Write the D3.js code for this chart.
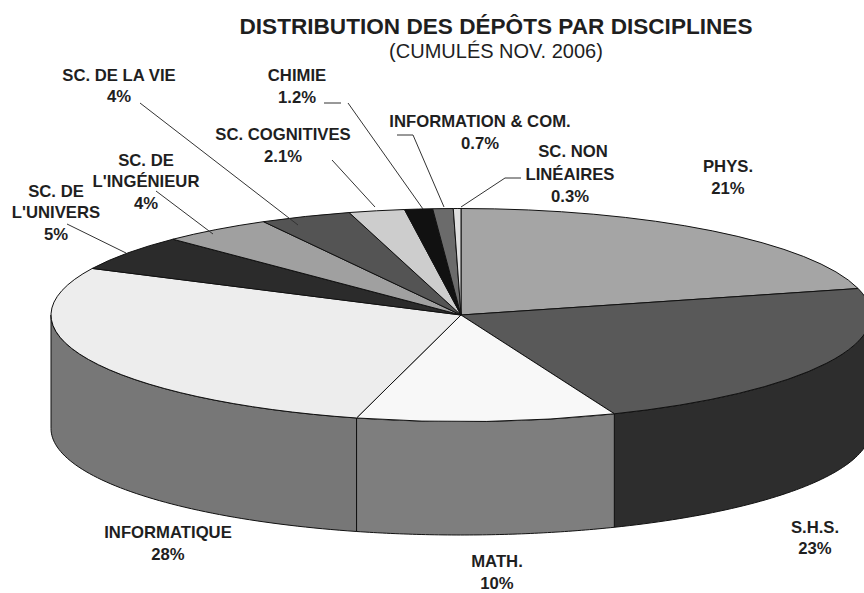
<!DOCTYPE html>
<html>
<head>
<meta charset="utf-8">
<script src="https://cdn.jsdelivr.net/npm/d3@7"></script>
<style>
  html, body { margin: 0; padding: 0; background: #fff; }
  svg { display: block; }
  text { font-family: "Liberation Sans", Arial, sans-serif; fill: #1f1f1f; text-anchor: middle; }
</style>
</head>
<body>
<svg id="canvas" width="864" height="593"></svg>
<script>
let disciplines = ['PHYS.', 'S.H.S.', 'MATH.', 'INFORMATIQUE', "SC. DE L'UNIVERS", "SC. DE L'INGÉNIEUR",
  'SC. DE LA VIE', 'SC. COGNITIVES', 'CHIMIE', 'INFORMATION & COM.', 'SC. NON LINÉAIRES']
let shares = [21, 22.9, 10.2, 28.1, 5.4, 4.4, 3.6, 2.2, 1.1, 0.8, 0.3]
let shareLabels = ['21%', '23%', '10%', '28%', '5%', '4%', '4%', '2.1%', '1.2%', '0.7%', '0.3%']

let topColors = ['#a5a5a5', '#595959', '#f8f8f8', '#ededed', '#2b2b2b', '#a0a0a0', '#545454', '#cdcdcd', '#111111', '#6b6b6b', '#dedede']
let sideColors = ['#777777', '#2d2d2d', '#7e7e7e', '#777777', '#222222', '#777777', '#333333', '#888888', '#000000', '#444444', '#999999']

// label placement: [center x, baseline y, text]
let labelLines = [
  [728, 172, 'PHYS.'], [728, 194, '21%'],
  [815, 533, 'S.H.S.'], [815, 554, '23%'],
  [497, 567, 'MATH.'], [497, 589, '10%'],
  [168, 538, 'INFORMATIQUE'], [168, 560, '28%'],
  [56, 197, 'SC. DE'], [56, 218, "L'UNIVERS"], [56, 240, '5%'],
  [146, 166, 'SC. DE'], [146, 187, "L'INGÉNIEUR"], [146, 209, '4%'],
  [119, 81, 'SC. DE LA VIE'], [119, 102, '4%'],
  [283, 140, 'SC. COGNITIVES'], [283, 162, '2.1%'],
  [297, 81, 'CHIMIE'], [297, 103, '1.2%'],
  [480, 127, 'INFORMATION & COM.'], [480, 149, '0.7%'],
  [573, 157, 'SC. NON'], [570, 180, 'LINÉAIRES'], [570, 202, '0.3%']
]

let leaders = [
  [[67, 224], [126, 253]],
  [[156, 191], [213, 234]],
  [[140, 103], [298, 225]],
  [[332, 160], [375, 207]],
  [[324, 103], [341, 103]],
  [[348, 103], [423, 209]],
  [[397, 135], [413, 135], [444, 207]],
  [[521, 178], [505, 178], [461, 207]]
]

let svg = d3.select('#canvas')

let cx = 461, cy = 315, rx = 410, ry = 106.5, depth = 113.5

let pieData = d3.pie().sort(null).value((d) => d)(shares)

let rim = (t, dy) => [cx + rx * Math.sin(t), cy - ry * Math.cos(t) + dy]

// front wall of the disc, only the part between 3 o'clock and 9 o'clock shows
let sidePath = (slice) => {
  let a = Math.max(slice.startAngle, Math.PI / 2)
  let b = Math.min(slice.endAngle, Math.PI * 1.5)
  if (a >= b) return null
  let ts = d3.range(0, 61).map((i) => a + (b - a) * i / 60)
  let pts = ts.map((t) => rim(t, 0)).concat(ts.slice().reverse().map((t) => rim(t, depth)))
  return d3.line()(pts) + 'Z'
}

svg.append('g').selectAll('path')
  .data(pieData.filter((d) => sidePath(d)))
  .enter()
  .append('path')
  .attr('d', sidePath)
  .attr('fill', (d) => sideColors[d.index])
  .attr('stroke', '#111')
  .attr('stroke-width', 1)

let arc = d3.arc().innerRadius(0).outerRadius(rx)

svg.append('g')
  .attr('transform', 'translate(' + cx + ',' + cy + ') scale(1,' + (ry / rx) + ')')
  .selectAll('path')
  .data(pieData)
  .enter()
  .append('path')
  .attr('d', arc)
  .attr('fill', (d) => topColors[d.index])
  .attr('stroke', '#111')
  .attr('stroke-width', 1)
  .attr('vector-effect', 'non-scaling-stroke')
  .attr('stroke-linejoin', 'round')

svg.append('g').selectAll('path')
  .data(leaders)
  .enter()
  .append('path')
  .attr('d', (d) => d3.line()(d))
  .attr('fill', 'none')
  .attr('stroke', '#333')
  .attr('stroke-width', 1)

svg.append('g').selectAll('text')
  .data(labelLines)
  .enter()
  .append('text')
  .attr('x', (d) => d[0])
  .attr('y', (d) => d[1])
  .attr('font-size', 16.7)
  .attr('font-weight', 'bold')
  .text((d) => d[2])

svg.append('text')
  .attr('x', 496).attr('y', 34)
  .attr('font-size', 22.6).attr('font-weight', 'bold')
  .text('DISTRIBUTION DES DÉPÔTS PAR DISCIPLINES')

svg.append('text')
  .attr('x', 496).attr('y', 58)
  .attr('font-size', 20)
  .text('(CUMULÉS NOV. 2006)')
</script>
</body>
</html>
